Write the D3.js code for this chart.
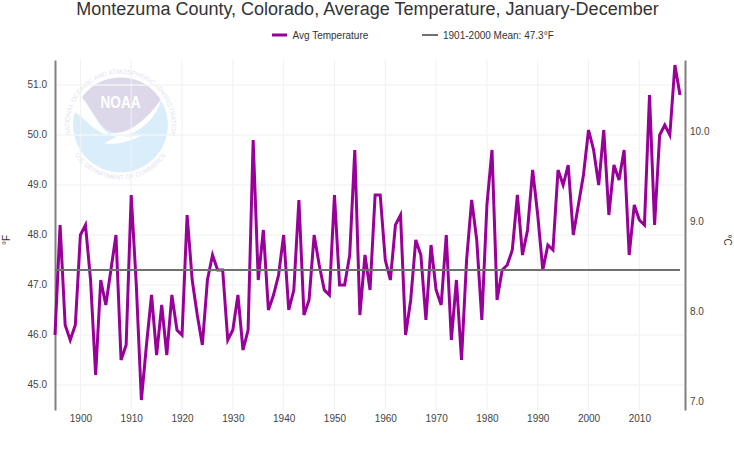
<!DOCTYPE html>
<html><head><meta charset="utf-8">
<script src="https://cdn.jsdelivr.net/npm/d3@7"></script>
<style>
html,body{margin:0;padding:0;background:#fff;}
svg{display:block;}
text{font-family:"Liberation Sans",Arial,sans-serif;}
</style></head><body><svg id="c" width="734" height="450"></svg>
<script>
const startYear = 1895;
const avgTemperature = [
46.0,48.2,46.2,45.9,46.2,48.0,48.2,47.1,45.2,47.1,
46.6,47.3,48.0,45.5,45.8,48.8,47.0,44.7,45.8,46.8,
45.6,46.6,45.6,46.8,46.1,46.0,48.4,47.1,46.4,45.8,
47.1,47.6,47.3,47.3,45.9,46.1,46.8,45.7,46.1,49.9,
47.1,48.1,46.5,46.8,47.2,48.0,46.5,46.9,48.7,46.4,
46.7,48.0,47.4,46.9,46.8,48.8,47.0,47.0,47.6,49.7,
46.4,47.6,46.9,48.8,48.8,47.5,47.1,48.2,48.4,46.0,
46.7,47.9,47.6,46.3,47.8,46.9,46.6,48.0,45.9,47.1,
45.5,47.5,48.7,47.9,46.3,48.6,49.7,46.7,47.3,47.4,
47.7,48.8,47.6,48.1,49.3,48.4,47.3,47.8,47.7,49.3,
49.0,49.4,48.0,48.6,49.2,50.1,49.7,49.0,50.1,48.4,
49.4,49.1,49.7,47.6,48.6,48.3,48.2,50.8,48.2,50.0,
50.2,50.0,51.4,50.8];
const years = avgTemperature.map((_, i) => startYear + i);
const meanValue = 47.3;
const fTicks = [45,46,47,48,49,50,51];
const cTicks = [7,8,9,10];
const yearTicks = [1900,1910,1920,1930,1940,1950,1960,1970,1980,1990,2000,2010];
const titleText = "Montezuma County, Colorado, Average Temperature, January-December";
const seriesName = "Avg Temperature";
const meanName = "1901-2000 Mean: 47.3°F";

const svg = d3.select("#c");
const x = d3.scaleLinear().domain([1895,2018]).range([55,680]);
const y = d3.scaleLinear().domain([51.5,44.5]).range([60,410]);
const yC = d3.scaleLinear().domain([(51.5-32)/1.8,(44.5-32)/1.8]).range([60,410]);

svg.append("text").attr("x",367.5).attr("y",15).attr("text-anchor","middle")
  .attr("font-size",18).attr("fill","#333").text(titleText);

// logo
const logo = svg.append("g").attr("transform","translate(120.5,125)");
const defs = svg.append("defs");
defs.append("clipPath").attr("id","lc").append("circle").attr("r",47.5);
const lg = logo.append("g").attr("clip-path","url(#lc)");
lg.append("circle").attr("r",47.5).attr("fill","#d9edfa");
lg.append("path").attr("d","M-39,-50H42V-27C30,-10 12,8 -5,8C-20,6 -28,-16 -39,-28Z").attr("fill","#dcd8ea");
lg.append("path").attr("d","M-48,-14C-36,-8 -28,6 -15,9L-5,8C12,8 30,-10 41,-26C36,-10 26,4 3,11.5C14,12 20,10 22,10C12,16 -4,20 -16,18.5C-12,15 -8,14 -3,12C-20,10 -28,-16 -39,-28L-48,-28Z").attr("fill","#fff");
logo.append("text").attr("x",0).attr("y",-17).attr("text-anchor","middle").attr("font-size",16).attr("font-weight",700).attr("fill","#fff").attr("textLength",40).attr("lengthAdjust","spacingAndGlyphs").text("NOAA");
defs.append("path").attr("id","arcTop").attr("d","M-48,17A51,51 0 1 1 48,17");
defs.append("path").attr("id","arcBot").attr("d","M-49.4,23A54.5,54.5 0 0 0 49.4,23");
logo.append("text").attr("font-size",6.4).attr("fill","#dfe3f2").append("textPath").attr("href","#arcTop").attr("startOffset","50%").attr("text-anchor","middle").text("NATIONAL OCEANIC AND ATMOSPHERIC ADMINISTRATION");
logo.append("text").attr("font-size",6.4).attr("fill","#dfe3f2").append("textPath").attr("href","#arcBot").attr("startOffset","50%").attr("text-anchor","middle").text("U.S. DEPARTMENT OF COMMERCE");

// grid
const grid = svg.append("g");
grid.selectAll(".gx").data(yearTicks).join("line").attr("x1",d=>x(d)).attr("x2",d=>x(d)).attr("y1",60).attr("y2",410).attr("stroke","#f0f0f0").attr("stroke-width",1);
grid.selectAll(".gy").data(fTicks).join("line").attr("x1",55).attr("x2",685).attr("y1",d=>y(d)).attr("y2",d=>y(d)).attr("stroke","#f5f5f5").attr("stroke-width",1.5);

// axes
const axL = svg.append("g").attr("transform","translate(55,0)").call(d3.axisLeft(y).tickValues(fTicks).tickFormat(d3.format(".1f")).tickSize(0).tickPadding(8));
const axR = svg.append("g").attr("transform","translate(685,0)").call(d3.axisRight(yC).tickValues(cTicks).tickFormat(d3.format(".1f")).tickSize(0).tickPadding(5));
const axB = svg.append("g").attr("transform","translate(0,410)").call(d3.axisBottom(x).tickValues(yearTicks).tickFormat(d3.format("d")).tickSize(0).tickPadding(5));
[axL,axR,axB].forEach(a=>{a.selectAll("text").attr("font-size",10).attr("fill","#444").style("font-family","'Liberation Sans',Arial,sans-serif");});
axB.select(".domain").remove();
axL.select(".domain").attr("stroke","#808080").attr("stroke-width",2);
axR.select(".domain").attr("stroke","#808080").attr("stroke-width",2);
axR.selectAll("text").attr("dy","-0.02em");
axL.selectAll("text").attr("dy","0.28em");

svg.append("text").attr("transform","translate(10,240) rotate(-90)").attr("text-anchor","middle").attr("font-size",10).attr("fill","#333").text("°F");
svg.append("text").attr("transform","translate(724,240) rotate(90)").attr("text-anchor","middle").attr("font-size",10).attr("fill","#333").text("°C");

// series
const line = d3.line().x((d,i)=>x(years[i])).y(d=>y(d));
svg.append("path").datum(avgTemperature).attr("d",line).attr("fill","none").attr("stroke","#990099").attr("stroke-width",3).attr("stroke-linejoin","miter");
svg.append("line").attr("x1",x(1895)).attr("x2",x(2018)).attr("y1",y(meanValue)).attr("y2",y(meanValue)).attr("stroke","#707070").attr("stroke-width",2);

// legend
svg.append("line").attr("x1",272).attr("x2",287).attr("y1",35).attr("y2",35).attr("stroke","#990099").attr("stroke-width",3);
svg.append("text").attr("x",292.5).attr("y",38.5).attr("font-size",10).attr("fill","#333").text(seriesName);
svg.append("line").attr("x1",422).attr("x2",438).attr("y1",35).attr("y2",35).attr("stroke","#707070").attr("stroke-width",2);
svg.append("text").attr("x",443).attr("y",38.5).attr("font-size",10).attr("fill","#333").text(meanName);
</script></body></html>
